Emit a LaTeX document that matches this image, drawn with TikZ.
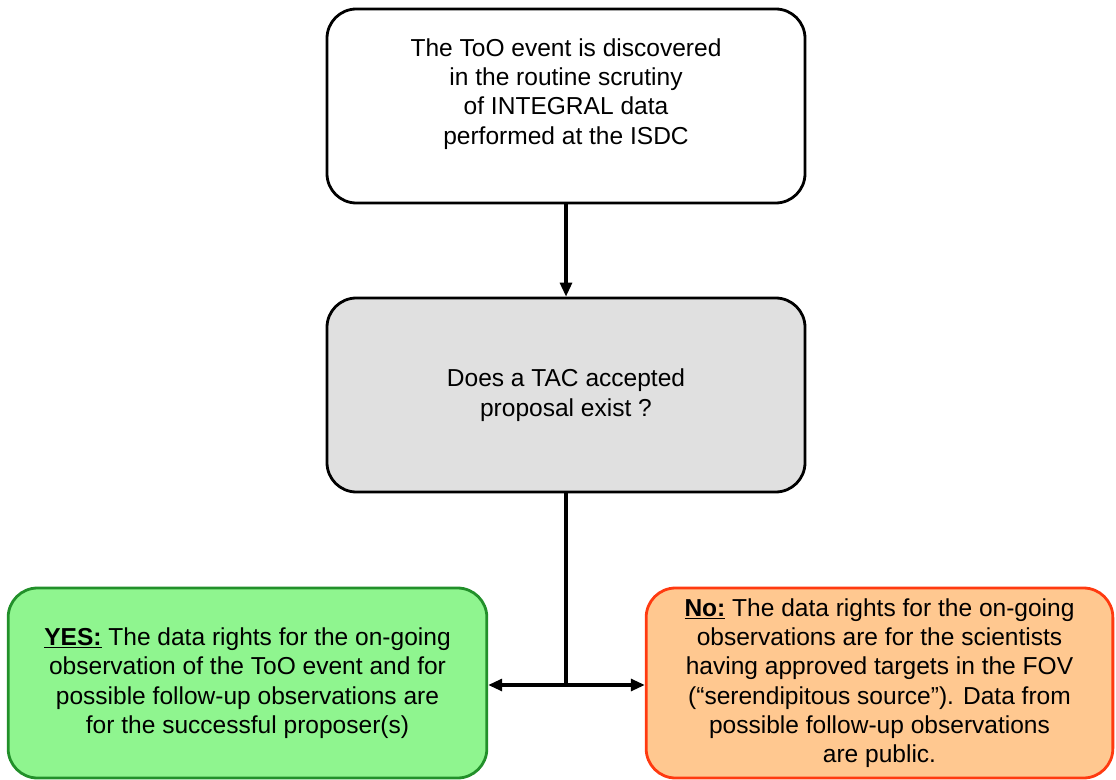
\documentclass[tikz,border=0pt]{standalone}
\usepackage{fontspec}
\setmainfont{Liberation Sans}
\usetikzlibrary{arrows.meta}
\definecolor{grayfill}{HTML}{E0E0E0}
\definecolor{greenfill}{HTML}{8FF58F}
\definecolor{greenline}{HTML}{22902A}
\definecolor{orangefill}{HTML}{FFC890}
\definecolor{redline}{HTML}{FF3A10}
\tikzset{
  box/.style={draw=black, line width=2.1pt, rounded corners=22pt, inner sep=0pt,
    align=center, font=\fontsize{18.4}{22}\selectfont},
  conn/.style={line width=2.3pt, -{Triangle[length=10.5pt,width=9pt]}},
  seg/.style={line width=2.3pt}
}
\begin{document}
\begin{tikzpicture}[x=0.75pt,y=-0.75pt]
\useasboundingbox (0,0) rectangle (1116,780);
\node[box, fill=white, minimum width=358.5pt, minimum height=145.5pt] (top) at (566,106)
  {The ToO event is discovered\\in the routine scrutiny\\of INTEGRAL data\\performed at the ISDC\\ \mbox{}};
\node[box, fill=grayfill, minimum width=358.5pt, minimum height=145.5pt] (q) at (566,395)
  {Does a TAC accepted\\proposal exist ?};
\node[box, draw=greenline, fill=greenfill, minimum width=359pt, minimum height=142.5pt] (yes) at (247.5,683)
  {\underline{\textbf{YES:}} The data rights for the on-going\\observation of the ToO event and for\\possible follow-up observations are\\for the successful proposer(s)};
\node[box, draw=redline, fill=orangefill, minimum width=350pt, minimum height=142.5pt] (no) at (879.5,683)
  {\underline{\textbf{No:}} The data rights for the on-going\\observations are for the scientists\\having approved targets in the FOV\\(“serendipitous source”). Data from\\possible follow-up observations\\are public.};
\coordinate (j) at (566,685);
\draw[conn] (top) -- (q);
\draw[seg] (q.south) -- (j);
\draw[conn] (j) -- (yes.east |- j);
\draw[conn] (j) -- (no.west |- j);
\end{tikzpicture}
\end{document}
